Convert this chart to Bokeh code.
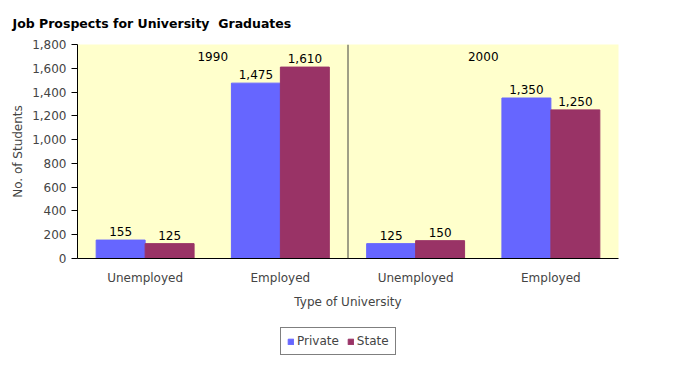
from bokeh.plotting import figure
from bokeh.layouts import column
from bokeh.models import (Range1d, NumeralTickFormatter, FixedTicker, Span, Label,
                          ColumnDataSource, Legend, LegendItem)
from bokeh.core.properties import value
from bokeh.embed import file_html
from bokeh.resources import INLINE

categories = ["Unemployed", "Employed", "Unemployed", "Employed"]
years = ["1990", "2000"]
series = ["Private", "State"]
private = [155, 1475, 125, 1350]
state = [125, 1610, 150, 1250]
y_ticks = [0, 200, 400, 600, 800, 1000, 1200, 1400, 1600, 1800]
colors = ["#6666FF", "#993366"]

FONT = "DejaVu Sans"
centers = [i + 0.5 for i in range(len(categories))]
bw = 0.362

src_p = ColumnDataSource(dict(x=[c - bw / 2 for c in centers], top=private,
                              lbl=[f"{v:,}" for v in private]))
src_s = ColumnDataSource(dict(x=[c + bw / 2 for c in centers], top=state,
                              lbl=[f"{v:,}" for v in state]))
sources = [src_p, src_s]

p = figure(width=660, height=318, output_backend="svg", toolbar_location=None,
           x_range=Range1d(0, 4), y_range=Range1d(0, 1800),
           title="Job Prospects for University\u00a0\u00a0Graduates",
           min_border_left=77, min_border_right=42, min_border_top=44, min_border_bottom=60)
p.background_fill_color = "#FFFFCC"
p.border_fill_color = "white"
p.outline_line_color = None
p.grid.visible = False

p.title.align = "left"
p.title.offset = -65
p.title.text_font = FONT
p.title.text_font_size = "12.5px"
p.title.text_font_style = "bold"
p.title.text_color = "#000000"
p.title.standoff = 27

for src, col in zip(sources, colors):
    p.vbar(x="x", top="top", width=bw, source=src, fill_color=col, line_color=col)
    p.text(x="x", y="top", text="lbl", source=src, text_align="center", text_baseline="bottom",
           y_offset=-4, text_font=value(FONT), text_font_size="12px", text_color="#000000")

p.add_layout(Span(location=2, dimension="height", line_color="#404040", line_width=1))

for i, yr in enumerate(years):
    p.add_layout(Label(x=1.0 + 2 * i, y=1695, text=yr, text_align="center",
                       text_baseline="middle", text_font=FONT, text_font_size="12px",
                       text_color="#000000"))

ya = p.yaxis[0]
ya.ticker = FixedTicker(ticks=y_ticks)
ya.formatter = NumeralTickFormatter(format="0,0")
ya.axis_label = "No. of Students"
ya.axis_label_text_font = FONT
ya.axis_label_text_font_size = "12px"
ya.axis_label_text_font_style = "normal"
ya.axis_label_standoff = 4
ya.major_label_text_font = FONT
ya.major_label_text_font_size = "12px"
ya.major_tick_in = 0
ya.major_tick_out = 6
ya.minor_tick_line_color = None
ya.axis_line_color = "#000000"
ya.major_tick_line_color = "#000000"

xa = p.xaxis[0]
xa.ticker = FixedTicker(ticks=centers)
xa.major_label_overrides = {c: n for c, n in zip(centers, categories)}
xa.axis_label = "Type of University"
xa.axis_label_text_font = FONT
xa.axis_label_text_font_size = "12px"
xa.axis_label_text_font_style = "normal"
xa.axis_label_standoff = 7
xa.major_label_text_font = FONT
xa.major_label_text_font_size = "12px"
xa.major_label_standoff = 6
xa.major_tick_line_color = None
xa.minor_tick_line_color = None
xa.axis_line_color = "#000000"

# legend strip below the chart (bars here lie outside its visible range)
p2 = figure(width=660, height=40, output_backend="svg", toolbar_location=None,
            x_range=Range1d(0, 4), y_range=Range1d(5000, 6000), x_axis_type=None, y_axis_type=None,
            min_border=0)
p2.outline_line_color = None
p2.grid.visible = False
items = []
for name, src, col in zip(series, sources, colors):
    r = p2.vbar(x="x", top="top", width=bw, source=src, fill_color=col, line_color=col)
    items.append(LegendItem(label=name, renderers=[r]))
legend = Legend(items=items, orientation="horizontal", location=(203, 3),
                label_text_font=FONT, label_text_font_size="12px",
                glyph_width=7, glyph_height=7, label_standoff=3, spacing=8,
                padding=6, margin=0, border_line_color="#000000", border_line_width=1,
                label_height=14, background_fill_color="white")
p2.add_layout(legend, "center")

open("out.html", "w").write(file_html(column(p, p2, spacing=0), INLINE))
